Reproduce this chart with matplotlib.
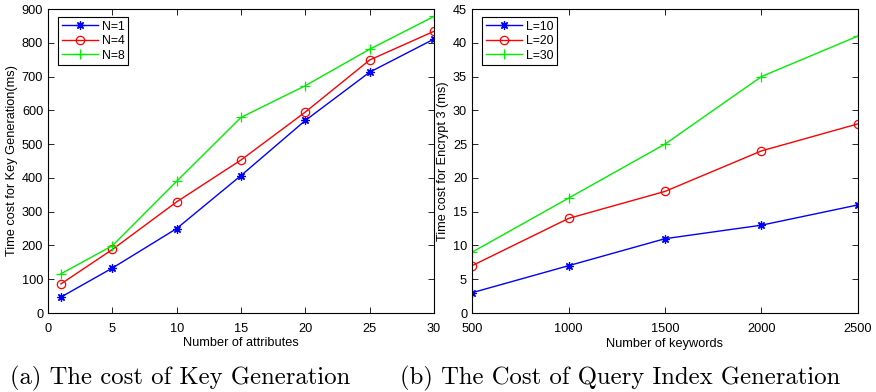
import matplotlib
matplotlib.use('Agg')
import matplotlib.pyplot as plt

# --- data ---
attrs = [1, 5, 10, 15, 20, 25, 30]
keygen_n1 = [47, 133, 250, 407, 570, 713, 811]
keygen_n4 = [86, 188, 329, 453, 595, 749, 834]
keygen_n8 = [116, 199, 390, 579, 673, 781, 878]
keygen_labels = ['N=1', 'N=4', 'N=8']

keywords = [500, 1000, 1500, 2000, 2500]
enc_l10 = [3, 7, 11, 13, 16]
enc_l20 = [7, 14, 18, 24, 28]
enc_l30 = [9, 17, 25, 35, 41]
enc_labels = ['L=10', 'L=20', 'L=30']

plt.rcParams['font.family'] = ['Liberation Sans', 'DejaVu Sans']
plt.rcParams['font.size'] = 9.2

fig = plt.figure(figsize=(8.76, 3.92), dpi=100)
W, H = 876, 392
ax1 = fig.add_axes([48 / W, 1 - 313 / H, (434 - 48) / W, (313 - 9) / H])
ax2 = fig.add_axes([472 / W, 1 - 313 / H, (858 - 472) / W, (313 - 9) / H])

# colour, marker, face colour, size
styles = [('b', (8, 2, 0), 'b', 6), ('r', 'o', 'none', 6), ('#00ee00', '+', '#00ee00', 6.5)]


def draw(ax, x, series, labels):
    for ys, lab, (c, m, fc, ms) in zip(series, labels, styles):
        ax.plot(x, ys, color=c, marker=m, markerfacecolor=fc,
                markeredgecolor=c, markersize=ms, markeredgewidth=0.9,
                linewidth=1, label=lab)
    ax.tick_params(direction='in', top=True, right=True, length=4,
                   width=0.6, labelsize=9.2)
    ax.tick_params(axis='x', pad=7)
    for s in ax.spines.values():
        s.set_linewidth(0.8)
    leg = ax.legend(loc='upper left', fancybox=False, framealpha=1,
                    edgecolor='black', fontsize=8.8, handlelength=3.0,
                    borderpad=0.3, labelspacing=0.2, handletextpad=0.3,
                    borderaxespad=0, bbox_to_anchor=(10 / 386, 1 - 8 / 304))
    leg.get_frame().set_linewidth(0.8)


draw(ax1, attrs, [keygen_n1, keygen_n4, keygen_n8], keygen_labels)
ax1.set_xlim(0, 30)
ax1.set_ylim(0, 900)
ax1.set_xticks([0, 5, 10, 15, 20, 25, 30])
ax1.set_yticks(range(0, 901, 100))
ax1.set_xlabel('Number of attributes', labelpad=2)
ax1.set_ylabel('Time cost for Key Generation(ms)', labelpad=3)

draw(ax2, keywords, [enc_l10, enc_l20, enc_l30], enc_labels)
ax2.set_xlim(500, 2500)
ax2.set_ylim(0, 45)
ax2.set_xticks(keywords)
ax2.set_yticks(range(0, 46, 5))
ax2.set_xlabel('Number of keywords', labelpad=2)
ax2.set_ylabel('Time cost for Encrypt 3 (ms)', labelpad=3)

cap = dict(family=['cmr10', 'DejaVu Serif'], fontsize=17.8, va='center')
fig.text(10 / W, 1 - 378 / H, '(a) The cost of Key Generation', ha='left', **cap)
fig.text(400 / W, 1 - 378 / H, '(b) The Cost of Query Index Generation', ha='left', **cap)

fig.savefig('out.png', dpi=100)
